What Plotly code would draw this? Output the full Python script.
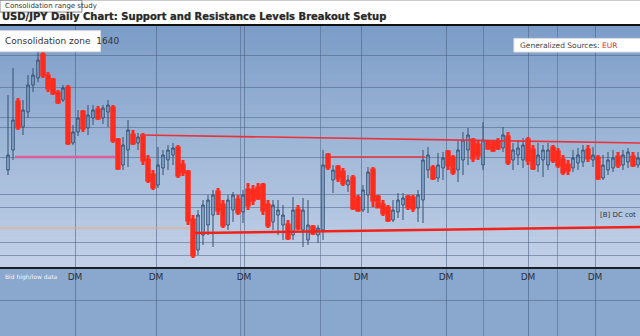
import plotly.graph_objects as go

# ---------------- data ----------------
session = list(range(127))
open_ = [130,150,198,173,188,215,222,245,224,220,207,200,212,157,168,188,172,182,190,182,
         188,192,160,135,150,165,157,163,140,125,115,132,140,145,152,135,128,80,50,65,
         75,85,108,95,75,90,100,88,110,110,112,115,95,78,85,75,75,65,90,70,
         60,73,65,70,145,120,133,128,115,122,102,90,105,130,103,95,92,80,88,95,
         103,102,92,100,130,132,122,132,148,142,130,140,150,160,155,135,158,157,158,152,
         163,140,145,140,160,150,135,140,135,152,148,140,135,132,137,138,150,140,142,122,
         130,132,143,135,138,143,135]
close = [145,180,173,190,215,225,240,225,212,207,198,212,157,168,182,172,185,190,182,192,
         195,160,132,155,170,157,163,140,120,113,135,145,150,152,125,128,80,45,85,95,
         100,105,90,75,100,105,88,105,95,100,102,90,75,95,90,85,62,90,72,90,
         75,67,72,135,133,130,122,117,120,92,90,110,128,100,93,87,80,90,100,102,
         93,92,105,140,145,122,135,142,135,128,150,160,165,142,145,160,152,150,152,165,
         138,150,152,155,140,132,145,150,150,140,135,128,130,142,145,150,142,145,122,135,
         140,142,135,145,148,135,142]
high = [205,232,202,200,225,232,255,250,228,222,210,215,215,175,190,190,195,195,194,195,
        200,195,162,163,180,170,167,167,145,130,153,150,155,157,155,140,130,85,90,100,
        105,110,112,100,105,108,105,110,117,115,117,117,100,100,100,95,80,103,95,102,
        100,75,75,150,147,135,135,132,125,125,105,115,133,133,105,100,95,100,107,107,
        105,105,110,150,153,135,147,148,150,145,160,168,172,162,160,178,160,160,162,173,
        168,157,160,162,163,155,157,155,157,155,152,145,140,150,152,155,155,153,145,145,
        148,150,148,150,152,148,148]
low = [125,140,170,165,182,208,218,222,208,205,196,198,155,155,164,168,165,175,180,176,
       173,157,130,130,133,155,150,135,117,110,112,125,130,135,122,124,75,42,45,55,
       65,53,85,72,70,78,85,77,90,95,100,85,72,70,65,60,60,60,70,53,
       55,65,57,60,130,107,118,114,108,90,88,88,87,93,92,84,78,78,82,80,
       90,88,78,77,122,120,118,120,130,125,118,125,135,138,140,130,150,148,150,148,
       135,130,135,132,135,130,128,123,130,137,132,125,125,128,130,133,138,133,120,120,
       125,128,132,130,132,133,132]

# support / resistance levels: (start session, end session, start price, end price)
lvl_start = [1.4, 26.4, 64.0, 37.4, -1.6]
lvl_end = [21.4, 126.4, 83.4, 126.4, 36.4]
lvl_p0 = [143, 165, 143, 67, 72]
lvl_p1 = [143, 157, 143, 73, 72]
lvl_color = ["#d8609c", "#e8323a", "#e8323a", "#f0231c", "#f2a77c"]
lvl_width = [2.5, 1.6, 1.6, 2.6, 1.2]

tick_pos = [13.4, 29.6, 47.2, 70.6, 87.6, 104.0, 117.4]
tick_text = ["DM", "DM", "DM", "DM", "DM", "DM", "DM"]
minor_pos = [46.4, 62.4, 95.0, 109.8]
grid_prices = [0, 45, 58, 93, 106, 143, 173, 183, 213, 245]

# ---------------- figure ----------------
fig = go.Figure()

fig.add_trace(go.Candlestick(
    x=session, open=open_, high=high, low=low, close=close,
    increasing=dict(line=dict(color="#34506f", width=1), fillcolor="rgba(130,175,225,0.55)"),
    decreasing=dict(line=dict(color="#ff2b1c", width=3), fillcolor="#ff2b1c"),
    whiskerwidth=0, showlegend=False, hoverinfo="skip"))

for s, e, p0, p1, c, w in zip(lvl_start, lvl_end, lvl_p0, lvl_p1, lvl_color, lvl_width):
    fig.add_trace(go.Scatter(x=[s, e], y=[p0, p1], mode="lines",
                             line=dict(color=c, width=w), showlegend=False,
                             hoverinfo="skip"))

AX = 0.219  # axis line position (fraction of plot height)

shapes = []
# gradient background above the axis
stops = [(0.0, (196, 210, 232)), (0.5, (160, 184, 216)), (1.0, (124, 157, 200))]
N = 40
for k in range(N):
    t = (k + 0.5) / N
    for (a, ca), (b, cb) in zip(stops[:-1], stops[1:]):
        if a <= t <= b:
            f = (t - a) / (b - a)
            col = tuple(int(ca[j] + (cb[j] - ca[j]) * f) for j in range(3))
            break
    y0 = AX + (1 - AX) * k / N
    y1 = AX + (1 - AX) * (k + 1) / N + 0.002
    shapes.append(dict(type="rect", xref="paper", yref="paper", x0=0, x1=1, y0=y0, y1=y1,
                       fillcolor="rgb(%d,%d,%d)" % col, line=dict(width=0), layer="below"))
# bottom band
shapes.append(dict(type="rect", xref="paper", yref="paper", x0=0, x1=1, y0=0, y1=AX,
                   fillcolor="#8aa7cd", line=dict(width=0), layer="below"))
# title bar rule
shapes.append(dict(type="line", xref="paper", yref="paper", x0=0, x1=1, y0=1.003, y1=1.003,
                   line=dict(color="#111111", width=2)))
shapes.append(dict(type="line", xref="paper", yref="paper", x0=0, x1=1, y0=1.083, y1=1.083,
                   line=dict(color="#bbbbbb", width=1)))
# top-left small tab
shapes.append(dict(type="rect", xref="paper", yref="paper", x0=0, x1=0.128, y0=1.045, y1=1.083,
                   fillcolor="white", line=dict(color="#888888", width=1)))
# legend boxes
shapes.append(dict(type="rect", xref="paper", yref="paper", x0=-0.01, x1=0.157, y0=0.917, y1=0.985,
                   fillcolor="white", line=dict(color="#dddddd", width=1)))
shapes.append(dict(type="rect", xref="paper", yref="paper", x0=0.803, x1=1.01, y0=0.916, y1=0.96,
                   fillcolor="white", line=dict(color="#dddddd", width=1)))

annotations = [
    dict(xref="paper", yref="paper", x=0.004, y=1.064, xanchor="left", yanchor="middle",
         text="Consolidation range study", showarrow=False,
         font=dict(family="DejaVu Sans", size=7, color="#333333")),
    dict(xref="paper", yref="paper", x=0.0, y=1.032, xanchor="left", yanchor="middle",
         text="<b>USD/JPY Daily Chart: Support and Resistance Levels Breakout Setup</b>",
         showarrow=False,
         font=dict(family="DejaVu Sans", size=10, color="#2a2a2a", shadow="0px 0px 1px #888")),
    dict(xref="paper", yref="paper", x=0.004, y=0.951, xanchor="left", yanchor="middle",
         text="Consolidation zone  1640", showarrow=False,
         font=dict(family="DejaVu Sans", size=9, color="#333333")),
    dict(xref="paper", yref="paper", x=0.81, y=0.938, xanchor="left", yanchor="middle",
         text="Generalized Sources: <span style='color:#d0303a'>EUR</span>", showarrow=False,
         font=dict(family="DejaVu Sans", size=7.5, color="#444444")),
    dict(xref="paper", yref="paper", x=0.997, y=0.39, xanchor="right", yanchor="middle",
         text="[B] DC cot", showarrow=False,
         font=dict(family="DejaVu Sans", size=7, color="#333333")),
    dict(xref="paper", yref="paper", x=0.004, y=AX - 0.03, xanchor="left", yanchor="middle",
         text="Bid high/low data", showarrow=False,
         font=dict(family="DejaVu Sans", size=6, color="#f4f7fb")),
]

fig.update_layout(
    width=640, height=336,
    margin=dict(l=0, r=0, t=26, b=0),
    paper_bgcolor="white", plot_bgcolor="rgba(0,0,0,0)",
    shapes=shapes, annotations=annotations,
    xaxis=dict(range=[-1.6, 126.4], rangeslider=dict(visible=False),
               anchor="free", position=AX, showline=True, linecolor="#1c1f26", linewidth=2,
               tickmode="array", tickvals=tick_pos, ticktext=tick_text,
               tickfont=dict(family="DejaVu Sans", size=9, color="#2a3140"),
               showgrid=True, gridcolor="rgba(70,92,125,0.55)", gridwidth=1,
               minor=dict(tickmode="array", tickvals=minor_pos, showgrid=True,
                          gridcolor="rgba(70,92,125,0.45)", gridwidth=1),
               zeroline=False, ticks=""),
    yaxis=dict(range=[-36, 274], tickmode="array", tickvals=grid_prices,
               showticklabels=False, showgrid=True, gridcolor="rgba(70,92,125,0.5)",
               gridwidth=1, zeroline=False, fixedrange=True),
)

fig.write_html("out.html")
